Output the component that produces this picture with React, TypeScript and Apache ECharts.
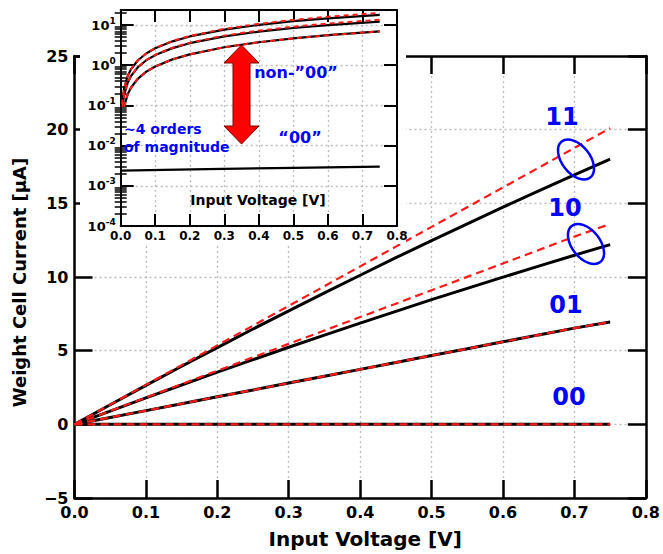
import React, { useEffect, useRef } from 'react';
import * as echarts from 'echarts';

// ---------- Main panel data (linear axes) ----------
const voltages = [0, 0.05, 0.1, 0.15, 0.2, 0.25, 0.3, 0.35, 0.4, 0.45, 0.5, 0.55, 0.6, 0.65, 0.7, 0.75];
const sim11 = [0, 1.33, 2.64, 3.94, 5.21, 6.47, 7.70, 8.92, 10.12, 11.31, 12.47, 13.61, 14.74, 15.84, 16.93, 18.0];
const model11 = [0, 1.34, 2.68, 4.02, 5.36, 6.70, 8.04, 9.38, 10.72, 12.06, 13.40, 14.74, 16.08, 17.42, 18.76, 20.1];
const sim10 = [0, 0.90, 1.79, 2.67, 3.54, 4.39, 5.23, 6.05, 6.87, 7.67, 8.46, 9.23, 9.99, 10.74, 11.48, 12.2];
const model10 = [0, 0.91, 1.82, 2.73, 3.64, 4.55, 5.46, 6.37, 7.28, 8.19, 9.10, 10.01, 10.92, 11.83, 12.74, 13.6];
const sim01 = [0, 0.47, 0.93, 1.40, 1.87, 2.33, 2.80, 3.27, 3.73, 4.20, 4.67, 5.13, 5.60, 6.07, 6.53, 6.95];
const model01 = [0, 0.47, 0.93, 1.40, 1.87, 2.33, 2.80, 3.27, 3.73, 4.20, 4.67, 5.13, 5.60, 6.07, 6.53, 6.95];
const sim00 = [0, 0, 0, 0, 0, 0, 0, 0, 0, 0, 0, 0, 0, 0, 0, 0];
const model00 = [0, 0, 0, 0, 0, 0, 0, 0, 0, 0, 0, 0, 0, 0, 0, 0];

// ---------- Inset data (log y axis), [V, I] ----------
const insetSim11 = [[0.004, 0.107], [0.01, 0.268], [0.02, 0.534], [0.03, 0.801], [0.05, 1.33], [0.075, 1.99], [0.1, 2.64], [0.15, 3.94], [0.2, 5.21], [0.3, 7.70], [0.4, 10.12], [0.5, 12.47], [0.6, 14.74], [0.75, 18.0]];
const insetModel11 = [[0.004, 0.107], [0.01, 0.268], [0.02, 0.536], [0.03, 0.804], [0.05, 1.34], [0.075, 2.01], [0.1, 2.68], [0.15, 4.02], [0.2, 5.36], [0.3, 8.04], [0.4, 10.72], [0.5, 13.4], [0.6, 16.08], [0.75, 20.1]];
const insetSim10 = [[0.005, 0.091], [0.01, 0.182], [0.02, 0.363], [0.03, 0.544], [0.05, 0.90], [0.075, 1.35], [0.1, 1.79], [0.15, 2.67], [0.2, 3.54], [0.3, 5.23], [0.4, 6.87], [0.5, 8.46], [0.6, 9.99], [0.75, 12.2]];
const insetModel10 = [[0.005, 0.091], [0.01, 0.182], [0.02, 0.364], [0.03, 0.546], [0.05, 0.91], [0.075, 1.365], [0.1, 1.82], [0.15, 2.73], [0.2, 3.64], [0.3, 5.46], [0.4, 7.28], [0.5, 9.10], [0.6, 10.92], [0.75, 13.6]];
const insetSim01 = [[0.01, 0.093], [0.02, 0.187], [0.03, 0.28], [0.05, 0.467], [0.075, 0.70], [0.1, 0.933], [0.15, 1.40], [0.2, 1.87], [0.3, 2.80], [0.4, 3.73], [0.5, 4.67], [0.6, 5.60], [0.75, 6.95]];
const insetModel01 = [[0.01, 0.093], [0.02, 0.187], [0.03, 0.28], [0.05, 0.467], [0.075, 0.70], [0.1, 0.933], [0.15, 1.40], [0.2, 1.87], [0.3, 2.80], [0.4, 3.73], [0.5, 4.67], [0.6, 5.60], [0.75, 6.95]];
const insetSim00 = [[0, 0.0024], [0.25, 0.0026], [0.5, 0.0028], [0.75, 0.0030]];

const stateLabels = ['11', '10', '01', '00'];

const FONT = '"DejaVu Sans", Verdana, sans-serif';
const BLUE = '#0000ff';
const RED = '#ff1a1a';

const minorLogTicks: number[] = [];
for (let e = -4; e < 2; e++) {
  for (let m = 2; m <= 9; m++) {
    const v = m * Math.pow(10, e);
    if (v < 23.7) minorLogTicks.push(v);
  }
}

function pairs(xs: number[], ys: number[]) {
  return xs.map((x, i) => [x, ys[i]]);
}

export default function App() {
  const ref = useRef<HTMLDivElement>(null);
  useEffect(() => {
    if (!ref.current) return;
    const chart = echarts.init(ref.current, undefined, { renderer: 'svg' });

    const mainBlack = (data: number[]) => ({
      type: 'line', xAxisIndex: 0, yAxisIndex: 0, data: pairs(voltages, data), showSymbol: false, symbol: 'none',
      lineStyle: { color: '#000', width: 3 }, z: 2,
    });
    const mainRed = (data: number[]) => ({
      type: 'line', xAxisIndex: 0, yAxisIndex: 0, data: pairs(voltages, data), showSymbol: false, symbol: 'none',
      lineStyle: { color: RED, width: 2.2, type: [8, 5] }, z: 3,
    });
    const insetBlack = (data: number[][]) => ({
      type: 'line', xAxisIndex: 2, yAxisIndex: 2, data, showSymbol: false, symbol: 'none',
      lineStyle: { color: '#000', width: 2.2 }, z: 21,
    });
    const insetRed = (data: number[][]) => ({
      type: 'line', xAxisIndex: 2, yAxisIndex: 2, data, showSymbol: false, symbol: 'none',
      lineStyle: { color: RED, width: 2, type: [5, 4] }, z: 22,
    });

    const mainLabel = { fontFamily: FONT, fontWeight: 'bold', fontSize: 16, color: '#000' };
    const insetLabel = { fontFamily: FONT, fontWeight: 'bold', fontSize: 12, color: '#000' };
    const gridDots = { show: true, lineStyle: { color: '#bdbdbd', width: 1.3, type: [2, 3] } };

    const logFormatter = (v: number) => {
      const lg = Math.log10(v);
      const e = Math.round(lg);
      if (Math.abs(lg - e) > 1e-6) return '';
      return `{b|10}{s|${e}}`;
    };

    const option: any = {
      animation: false,
      backgroundColor: '#fff',
      grid: [
        { left: 74.5, right: 17, top: 56, bottom: 55 },
        { left: 120.7, right: 266, top: 10, bottom: 328 },
      ],
      xAxis: [
        {
          type: 'value', gridIndex: 0, min: 0, max: 0.8, interval: 0.1, position: 'bottom',
          name: 'Input Voltage [V]', nameLocation: 'middle', nameGap: 31,
          nameTextStyle: { fontFamily: FONT, fontWeight: 'bold', fontSize: 20, color: '#000', padding: [0, 0, 0, 10] },
          axisLine: { show: true, onZero: false, lineStyle: { color: '#000', width: 2.5 } },
          axisTick: { show: true, inside: true, length: 18, lineStyle: { color: '#000', width: 2.5 } },
          axisLabel: { ...mainLabel, margin: 6, formatter: (v: number) => v.toFixed(1), showMinLabel: true, showMaxLabel: true },
          splitLine: gridDots,
          z: 0,
        },
        {
          type: 'value', gridIndex: 0, min: 0, max: 0.8, interval: 0.1, position: 'top',
          axisLine: { show: true, onZero: false, lineStyle: { color: '#000', width: 2.5 } },
          axisTick: { show: true, inside: true, length: 18, lineStyle: { color: '#000', width: 2.5 } },
          axisLabel: { show: false }, splitLine: { show: false }, z: 0,
        },
        {
          type: 'value', gridIndex: 1, min: 0, max: 0.8, interval: 0.1, position: 'bottom',
          axisLine: { show: true, onZero: false, lineStyle: { color: '#000', width: 2 } },
          axisTick: { show: true, inside: true, length: 12, lineStyle: { color: '#000', width: 2 } },
          axisLabel: { ...insetLabel, margin: 4, formatter: (v: number) => v.toFixed(1), showMinLabel: true, showMaxLabel: true },
          splitLine: gridDots, z: 20,
        },
        {
          type: 'value', gridIndex: 1, min: 0, max: 0.8, interval: 0.1, position: 'top',
          axisLine: { show: true, onZero: false, lineStyle: { color: '#000', width: 2 } },
          axisTick: { show: true, inside: true, length: 12, lineStyle: { color: '#000', width: 2 } },
          axisLabel: { show: false }, splitLine: { show: false }, z: 20,
        },
      ],
      yAxis: [
        {
          type: 'value', gridIndex: 0, min: -5, max: 25, interval: 5, position: 'left',
          name: 'Weight Cell Current [μA]', nameLocation: 'middle', nameGap: 46, nameRotate: 90,
          nameTextStyle: { fontFamily: FONT, fontWeight: 'bold', fontSize: 18, color: '#000', padding: [0, 11, 0, 0] },
          axisLine: { show: true, onZero: false, lineStyle: { color: '#000', width: 2.5 } },
          axisTick: { show: true, inside: true, length: 18, lineStyle: { color: '#000', width: 2.5 } },
          axisLabel: { ...mainLabel, margin: 6, formatter: (v: number) => String(v).replace('-', '\u2212'), showMinLabel: true, showMaxLabel: true },
          splitLine: gridDots, z: 0,
        },
        {
          type: 'value', gridIndex: 0, min: -5, max: 25, interval: 5, position: 'right',
          axisLine: { show: true, onZero: false, lineStyle: { color: '#000', width: 2.5 } },
          axisTick: { show: true, inside: true, length: 18, lineStyle: { color: '#000', width: 2.5 } },
          axisLabel: { show: false }, splitLine: { show: false }, z: 0,
        },
        {
          type: 'log', logBase: 10, gridIndex: 1, min: 0.0001, max: 23.7, position: 'left',
          axisLine: { show: true, onZero: false, lineStyle: { color: '#000', width: 2 } },
          axisTick: { show: true, inside: true, length: 13, lineStyle: { color: '#000', width: 2 } },
          axisLabel: {
            ...insetLabel, margin: 5, formatter: logFormatter, showMinLabel: true, showMaxLabel: true,
            rich: {
              b: { fontFamily: FONT, fontWeight: 'bold', fontSize: 13, color: '#000', lineHeight: 18 },
              s: { fontFamily: FONT, fontWeight: 'bold', fontSize: 9, color: '#000', verticalAlign: 'top', lineHeight: 18, padding: [0, 0, 8, 0] },
            },
          },
          splitLine: gridDots, z: 20,
        },
        {
          type: 'log', logBase: 10, gridIndex: 1, min: 0.0001, max: 23.7, position: 'right',
          axisLine: { show: true, onZero: false, lineStyle: { color: '#000', width: 2 } },
          axisTick: { show: true, inside: true, length: 13, lineStyle: { color: '#000', width: 2 } },
          axisLabel: { show: false }, splitLine: { show: false }, z: 20,
        },
        {
          type: 'log', logBase: 10, gridIndex: 1, min: 0.0001, max: 23.7, position: 'left',
          axisLine: { show: false },
          axisTick: { show: true, inside: true, length: 6, customValues: minorLogTicks, lineStyle: { color: '#000', width: 1.5 } },
          axisLabel: { show: false }, splitLine: { show: false }, z: 20,
        },
        {
          type: 'log', logBase: 10, gridIndex: 1, min: 0.0001, max: 23.7, position: 'right',
          axisLine: { show: false },
          axisTick: { show: true, inside: true, length: 6, customValues: minorLogTicks, lineStyle: { color: '#000', width: 1.5 } },
          axisLabel: { show: false }, splitLine: { show: false }, z: 20,
        },
      ],
      series: [
        mainBlack(sim11), mainBlack(sim10), mainBlack(sim01), mainBlack(sim00),
        mainRed(model11), mainRed(model10), mainRed(model01), mainRed(model00),
        insetBlack(insetSim11), insetBlack(insetSim10), insetBlack(insetSim01), insetBlack(insetSim00),
        insetRed(insetModel11), insetRed(insetModel10), insetRed(insetModel01),
      ],
      graphic: [
        { type: 'rect', z: 10, shape: { x: 80, y: 0, width: 326, height: 244 }, style: { fill: '#fff' } },
        {
          type: 'polygon', z: 40,
          shape: { points: [[241.5, 45], [259, 63], [250, 63], [250, 126], [259, 126], [241.5, 144], [224, 126], [233, 126], [233, 63], [224, 63]] },
          style: { fill: '#ff0000', stroke: '#7a0000', lineWidth: 1 },
        },
        { type: 'text', z: 40, x: 296, y: 72, style: { text: 'non-\u201D00\u201D', font: `bold 16px ${FONT}`, fill: BLUE, align: 'center', verticalAlign: 'middle' } },
        { type: 'text', z: 40, x: 300, y: 137, style: { text: '\u201C00\u201D', font: `bold 16px ${FONT}`, fill: BLUE, align: 'center', verticalAlign: 'middle' } },
        { type: 'text', z: 40, x: 124, y: 129, style: { text: '~4 orders', font: `bold 14px ${FONT}`, fill: BLUE, align: 'left', verticalAlign: 'middle' } },
        { type: 'text', z: 40, x: 124, y: 147, style: { text: 'of magnitude', font: `bold 14px ${FONT}`, fill: BLUE, align: 'left', verticalAlign: 'middle' } },
        { type: 'text', z: 40, x: 258, y: 200, style: { text: 'Input Voltage [V]', font: `bold 14px ${FONT}`, fill: '#000', align: 'center', verticalAlign: 'middle' } },
        { type: 'text', z: 40, x: 562, y: 117, style: { text: stateLabels[0], font: `bold 24px ${FONT}`, fill: BLUE, align: 'center', verticalAlign: 'middle' } },
        { type: 'text', z: 40, x: 565, y: 208, style: { text: stateLabels[1], font: `bold 24px ${FONT}`, fill: BLUE, align: 'center', verticalAlign: 'middle' } },
        { type: 'text', z: 40, x: 566, y: 305, style: { text: stateLabels[2], font: `bold 24px ${FONT}`, fill: BLUE, align: 'center', verticalAlign: 'middle' } },
        { type: 'text', z: 40, x: 569, y: 397, style: { text: stateLabels[3], font: `bold 24px ${FONT}`, fill: BLUE, align: 'center', verticalAlign: 'middle' } },
        { type: 'ellipse', z: 40, x: 576, y: 159.5, rotation: -0.9, shape: { cx: 0, cy: 0, rx: 23, ry: 14 }, style: { fill: 'none', stroke: BLUE, lineWidth: 2.5 } },
        { type: 'ellipse', z: 40, x: 586, y: 244, rotation: -0.9, shape: { cx: 0, cy: 0, rx: 23, ry: 14 }, style: { fill: 'none', stroke: BLUE, lineWidth: 2.5 } },
      ],
    };
    chart.setOption(option);
    return () => chart.dispose();
  }, []);
  return <div ref={ref} style={{ position: 'fixed', left: 0, top: 0, width: 663, height: 554 }} />;
}
